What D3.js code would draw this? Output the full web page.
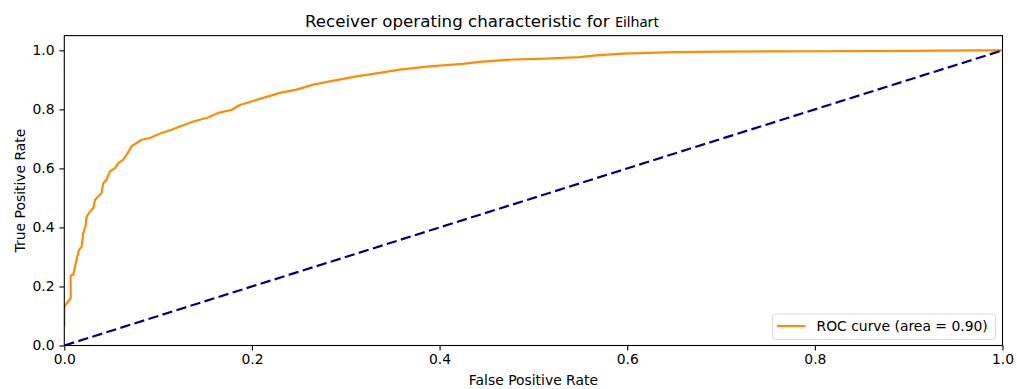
<!DOCTYPE html>
<html>
<head>
<meta charset="utf-8">
<script src="https://cdn.jsdelivr.net/npm/d3@7"></script>
<style>
  html, body { margin: 0; padding: 0; background: #fff; }
  svg { display: block; }
  text { font-family: "DejaVu Sans", sans-serif; fill: #000; }
</style>
</head>
<body>
<svg id="chart" width="1017" height="389"></svg>
<script>
// ROC curve points (false positive rate, true positive rate)
const fpr = [0, 0, 0.0026, 0.0068, 0.0068, 0.0096, 0.0114, 0.013, 0.0157, 0.0185, 0.0202, 0.0228,
  0.0238, 0.0274, 0.031, 0.0327, 0.0362, 0.0396, 0.0415, 0.045, 0.0487, 0.054, 0.0575, 0.0628,
  0.0664, 0.0718, 0.077, 0.0824, 0.0913, 0.0966, 0.1037, 0.1144, 0.1232, 0.1374, 0.1516, 0.166,
  0.178, 0.187, 0.212, 0.2297, 0.2475, 0.2652, 0.283, 0.3114, 0.3362, 0.3575, 0.389, 0.4248,
  0.4427, 0.478, 0.5137, 0.549, 0.567, 0.5953, 0.65, 0.70, 0.80, 0.90, 0.97, 1.0];
const tpr = [0.064, 0.13, 0.143, 0.16, 0.237, 0.24, 0.267, 0.29, 0.324, 0.335, 0.38, 0.409,
  0.437, 0.454, 0.466, 0.494, 0.505, 0.516, 0.55, 0.562, 0.59, 0.601, 0.618, 0.63,
  0.646, 0.675, 0.686, 0.697, 0.703, 0.711, 0.72, 0.731, 0.742, 0.759, 0.771, 0.79,
  0.798, 0.815, 0.839, 0.856, 0.867, 0.884, 0.895, 0.912, 0.924, 0.935, 0.946, 0.954,
  0.961, 0.969, 0.972, 0.977, 0.983, 0.989, 0.994, 0.996, 0.997, 0.998, 1.0, 1.0];
// chance line
const chanceX = [0, 1];
const chanceY = [0, 1];
const xTicks = [0, 0.2, 0.4, 0.6, 0.8, 1.0];
const yTicks = [0, 0.2, 0.4, 0.6, 0.8, 1.0];
const rocAuc = 0.90;
const titleMain = "Receiver operating characteristic for ";
const titleName = "Eilhart";

const svg = d3.select("#chart");
const plotLeft = 64.3, plotRight = 1002.5, plotTop = 35.6, plotBottom = 345.5;

const x = d3.scaleLinear().domain([0, 1]).range([plotLeft, plotRight]);
const y = d3.scaleLinear().domain([0, 1.05]).range([plotBottom, plotTop]);

svg.append("defs").append("clipPath").attr("id", "plotclip")
  .append("rect").attr("x", plotLeft).attr("y", plotTop)
  .attr("width", plotRight - plotLeft).attr("height", plotBottom - plotTop);

const plot = svg.append("g").attr("clip-path", "url(#plotclip)");

const line = d3.line().x(d => x(d[0])).y(d => y(d[1]));

plot.append("path")
  .datum(fpr.map((f, i) => [f, tpr[i]]))
  .attr("d", line)
  .attr("fill", "none")
  .attr("stroke", "#ff8c00")
  .attr("stroke-width", 2.2)
  .attr("stroke-linejoin", "round");

plot.append("path")
  .datum(chanceX.map((f, i) => [f, chanceY[i]]))
  .attr("d", line)
  .attr("fill", "none")
  .attr("stroke", "#000080")
  .attr("stroke-width", 2.2)
  .attr("stroke-dasharray", "10.3,4.4");

// axes
const fmt = d3.format(".1f");
const xAxis = svg.append("g").attr("transform", `translate(0,${plotBottom})`)
  .call(d3.axisBottom(x).tickValues(xTicks).tickFormat(fmt).tickSize(4.9).tickPadding(3.5));
const yAxis = svg.append("g").attr("transform", `translate(${plotLeft},0)`)
  .call(d3.axisLeft(y).tickValues(yTicks).tickFormat(fmt).tickSize(4.9).tickPadding(4.9));
[xAxis, yAxis].forEach(g => {
  g.select(".domain").remove();
  g.selectAll(".tick line").attr("stroke", "#000").attr("stroke-width", 1.1);
  g.selectAll(".tick text").style("font-family", "DejaVu Sans").style("font-size", "13.9px").attr("fill", "#000");
});

// frame
svg.append("rect")
  .attr("x", plotLeft).attr("y", plotTop)
  .attr("width", plotRight - plotLeft).attr("height", plotBottom - plotTop)
  .attr("fill", "none").attr("stroke", "#000").attr("stroke-width", 1.1);

// axis labels
svg.append("text")
  .attr("x", (plotLeft + plotRight) / 2).attr("y", 385)
  .attr("text-anchor", "middle")
  .style("font-size", "13.9px")
  .text("False Positive Rate");
svg.append("text")
  .attr("transform", `translate(25,${(plotTop + plotBottom) / 2}) rotate(-90)`)
  .attr("text-anchor", "middle")
  .style("font-size", "13.9px")
  .text("True Positive Rate");

// title
const title = svg.append("text")
  .attr("x", 305).attr("y", 27)
  .style("font-size", "16.67px");
title.append("tspan").text(titleMain);
title.append("tspan").style("font-family", "Noto Sans").style("font-size", "14.5px").text(titleName);

// legend
const lg = svg.append("g");
lg.append("rect")
  .attr("x", 772.5).attr("y", 314).attr("width", 223).attr("height", 25.5)
  .attr("rx", 3).attr("ry", 3)
  .attr("fill", "#fff").attr("fill-opacity", 0.8)
  .attr("stroke", "#d9d9d9").attr("stroke-width", 1);
lg.append("line")
  .attr("x1", 777).attr("x2", 805.5).attr("y1", 326).attr("y2", 326)
  .attr("stroke", "#ff8c00").attr("stroke-width", 2.2);
lg.append("text")
  .attr("x", 816.5).attr("y", 331)
  .style("font-size", "13.9px")
  .text(`ROC curve (area = ${rocAuc.toFixed(2)})`);
</script>
</body>
</html>
